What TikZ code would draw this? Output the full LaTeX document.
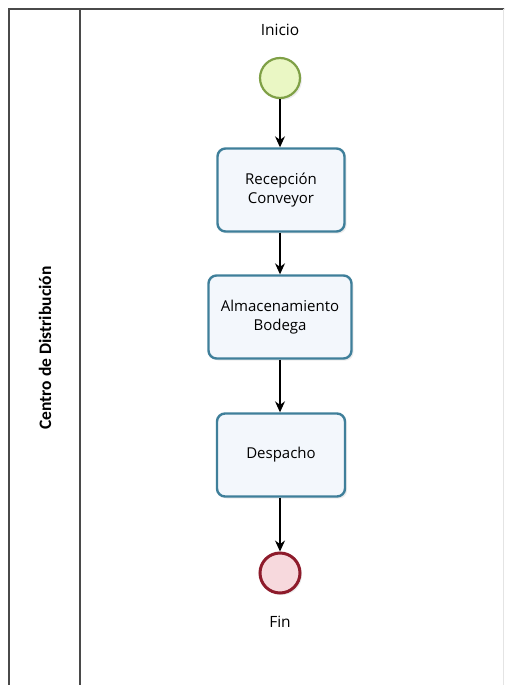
\documentclass[tikz,border=0pt]{standalone}
\usepackage{fontspec}
\setmainfont{Open Sans}
\newfontfamily\lanefont{Carlito}
\usetikzlibrary{arrows.meta,shadows}
\definecolor{framegray}{HTML}{4A4A4A}
\definecolor{taskline}{HTML}{3F7F9A}
\definecolor{taskfill}{HTML}{F3F7FC}
\definecolor{startline}{HTML}{7FA046}
\definecolor{startfill}{HTML}{EAF7C4}
\definecolor{endline}{HTML}{8E1B2B}
\definecolor{endfill}{HTML}{F7D9DD}
\tikzset{
  lane/.style={draw=framegray, line width=1.6pt},
  task/.style={draw=taskline, fill=taskfill, line width=2.4pt, rounded corners=8pt,
    minimum height=83pt, align=center, font=\fontsize{15}{19}\selectfont,
    drop shadow={shadow xshift=2pt, shadow yshift=-2pt, opacity=0.15}},
  startev/.style={circle, draw=startline, fill=startfill, line width=2.2pt, minimum size=40pt,
    drop shadow={shadow xshift=2pt, shadow yshift=-2pt, opacity=0.15}},
  endev/.style={circle, draw=endline, fill=endfill, line width=3pt, minimum size=40pt,
    drop shadow={shadow xshift=2pt, shadow yshift=-2pt, opacity=0.15}},
  evlabel/.style={font=\fontsize{15.5}{19}\selectfont},
  flow/.style={draw=black, line width=1.1pt, -{Stealth[length=11pt,width=10pt]}}
}
\begin{document}
\begin{tikzpicture}[x=1pt,y=-1pt]
\useasboundingbox (0,0) rectangle (504,685);
\begin{scope}
  \clip (0,0) rectangle (504,685);
  % pool frame and lane header
  \draw[lane] (9,700) -- (9,9) -- (510,9);
  \draw[draw=framegray!15, line width=1pt] (503,9) -- (503,700);
  \draw[lane] (80,9) -- (80,700);
\end{scope}
\node[rotate=90, font=\lanefont\bfseries\fontsize{17.5}{20}\selectfont] (lanename) at (45,348) {Centro de Distribución};

% events and tasks
\node[evlabel] (inicio) at (280,30) {Inicio};
\node[startev] (start) at (280,78) {};
\node[task, minimum width=127pt] (t1) at (281,190) {Recepción\\Conveyor};
\node[task, minimum width=143pt] (t2) at (280,317) {Almacenamiento\\Bodega};
\node[task, minimum width=128pt] (t3) at (281,455) {Despacho};
\node[endev] (end) at (280,573) {};
\node[evlabel] (fin) at (280,622) {Fin};

% sequence flows
\draw[flow] (start) -- (start |- t1.north);
\draw[flow] (t1.south -| 280,0) -- (t2.north);
\draw[flow] (t2.south) -- (t3.north -| t2.south);
\draw[flow] (t3.south -| end.north) -- (end.north);
\end{tikzpicture}
\end{document}
